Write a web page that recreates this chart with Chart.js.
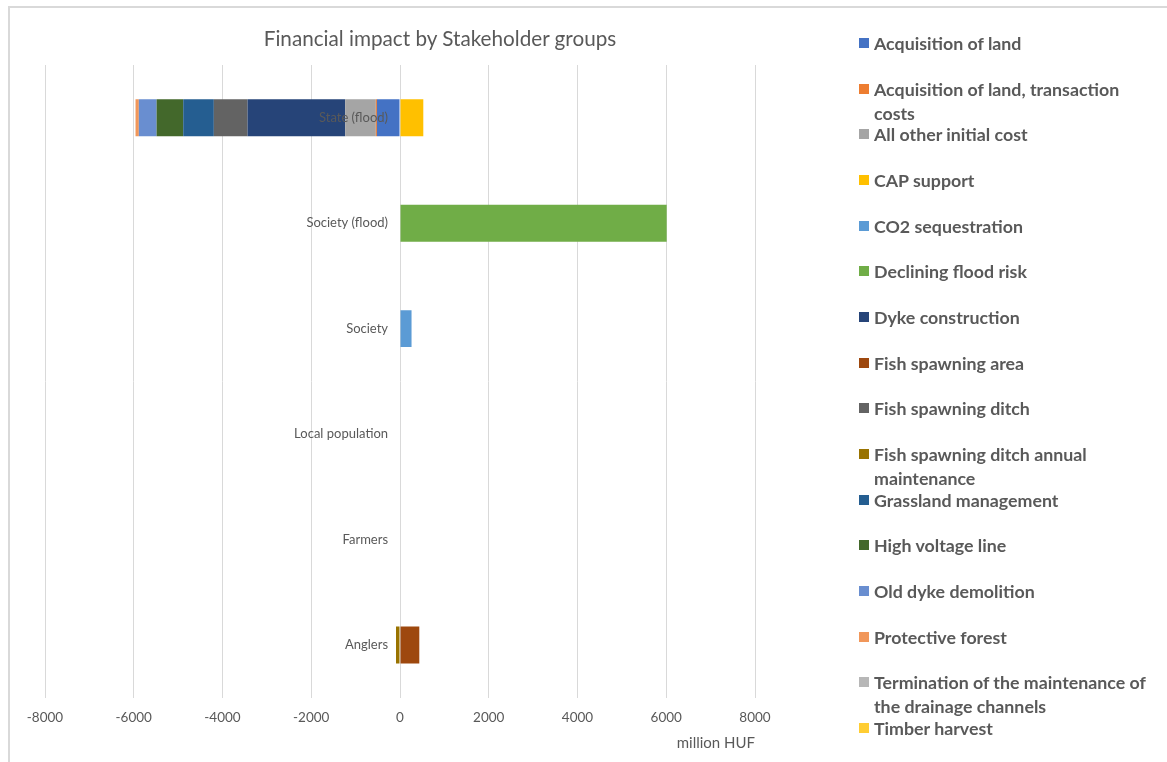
<!DOCTYPE html>
<html>
<head>
<meta charset="utf-8">
<script src="https://cdn.jsdelivr.net/npm/chart.js@4.4.1/dist/chart.umd.min.js"></script>
<style>
  html, body { margin: 0; padding: 0; background: #fff; overflow: hidden; }
  .wrap { position: relative; width: 1167px; height: 762px; overflow: hidden; font-family: Lato, 'Open Sans', sans-serif; }
  .frame { position: absolute; left: 8px; top: 6px; width: 2000px; height: 2000px; border-left: 2px solid #d9d9d9; border-top: 2px solid #d9d9d9; }
  .title { position: absolute; left: 240px; width: 400px; top: 26px; text-align: center; font-size: 20.7px; color: #595959; }
  #legend { position: absolute; left: 858px; top: 0; width: 305px; }
  .lg-item { position: absolute; left: 0; width: 305px; font-size: 17.8px; font-weight: 700; color: #595959; line-height: 24px; }
  .lg-box { position: absolute; left: 1px; top: 7px; width: 10px; height: 10px; }
  .lg-text { margin-left: 16px; width: 289px; }
</style>
</head>
<body>
<div class="wrap">
  <div class="frame"></div>
  <div class="title">Financial impact by Stakeholder groups</div>
  <canvas id="impactChart" width="1167" height="762"></canvas>
  <div id="legend"></div>
</div>
<script>
// categories (top to bottom)
const groups = ['State (flood)', 'Society (flood)', 'Society', 'Local population', 'Farmers', 'Anglers'];
const xTicks = [-8000, -6000, -4000, -2000, 0, 2000, 4000, 6000, 8000];

// series values, million HUF, per group
const acquisitionLand   = [-520, 0, 0, 0, 0, 0];
const acquisitionCosts  = [-25, 0, 0, 0, 0, 0];
const otherInitialCost  = [-690, 0, 0, 0, 0, 0];
const capSupport        = [525, 0, 0, 0, 0, 0];
const co2Sequestration  = [0, 0, 260, 0, 0, 0];
const floodRisk         = [0, 6010, 0, 0, 0, 0];
const dykeConstruction  = [-2200, 0, 0, 0, 0, 0];
const spawningArea      = [0, 0, 0, 0, 0, 435];
const spawningDitch     = [-760, 0, 0, 0, 0, 0];
const ditchMaintenance  = [0, 0, 0, 0, 0, -90];
const grassland         = [-690, 0, 0, 0, 0, 0];
const highVoltage       = [-600, 0, 0, 0, 0, 0];
const oldDykeDemolition = [-400, 0, 0, 0, 0, 0];
const protectiveForest  = [-75, 0, 0, 0, 0, 0];
const drainageEnd       = [0, 0, 0, 0, 0, 0];
const timberHarvest     = [0, 0, 0, 0, 0, 0];

const series = [
  ['Acquisition of land', acquisitionLand, '#4472c4'],
  ['Acquisition of land, transaction costs', acquisitionCosts, '#ed7d31'],
  ['All other initial cost', otherInitialCost, '#a5a5a5'],
  ['CAP support', capSupport, '#ffc000'],
  ['CO2 sequestration', co2Sequestration, '#5b9bd5'],
  ['Declining flood risk', floodRisk, '#70ad47'],
  ['Dyke construction', dykeConstruction, '#264478'],
  ['Fish spawning area', spawningArea, '#9e480e'],
  ['Fish spawning ditch', spawningDitch, '#636363'],
  ['Fish spawning ditch annual maintenance', ditchMaintenance, '#997300'],
  ['Grassland management', grassland, '#255e91'],
  ['High voltage line', highVoltage, '#43682b'],
  ['Old dyke demolition', oldDykeDemolition, '#698ed0'],
  ['Protective forest', protectiveForest, '#f1975a'],
  ['Termination of the maintenance of the drainage channels', drainageEnd, '#b7b7b7'],
  ['Timber harvest', timberHarvest, '#ffcd33']
];

const chart = new Chart(document.getElementById('impactChart'), {
  type: 'bar',
  data: {
    labels: groups,
    datasets: series.map(([label, data, color]) => ({
      label, data, backgroundColor: color, borderWidth: 0,
      categoryPercentage: 1, barPercentage: 0.35
    }))
  },
  options: {
    indexAxis: 'y',
    responsive: false,
    animation: false,
    layout: { padding: { top: 65, left: 45, right: 412, bottom: 10 } },
    plugins: { legend: { display: false }, title: { display: false } },
    scales: {
      x: {
        stacked: true,
        min: -8000, max: 8000,
        afterBuildTicks: s => { s.ticks = xTicks.map(v => ({ value: v })); },
        grid: { color: '#d9d9d9', drawTicks: false },
        border: { display: false },
        ticks: { padding: 12, color: '#595959', font: { family: 'Lato', size: 13.5 }, callback: v => String(v) },
        title: { display: true, text: 'million HUF', align: 'end', color: '#595959',
                 font: { family: 'Lato', size: 15 }, padding: { top: -4, bottom: 0 } }
      },
      y: {
        stacked: true,
        // labels sit just left of the zero line, as in the original
        position: { x: -270 },
        grid: { display: false },
        border: { display: false },
        ticks: { z: 1, color: '#595959', font: { family: 'Lato', size: 13 } }
      }
    }
  }
});

// legend built from the chart datasets
const legendEl = document.getElementById('legend');
chart.data.datasets.forEach((ds, i) => {
  const item = document.createElement('div');
  item.className = 'lg-item';
  item.style.top = (43 + i * 45.67 - 12) + 'px';
  item.innerHTML = `<span class="lg-box" style="background:${ds.backgroundColor}"></span><div class="lg-text">${ds.label}</div>`;
  legendEl.appendChild(item);
});
</script>
</body>
</html>
